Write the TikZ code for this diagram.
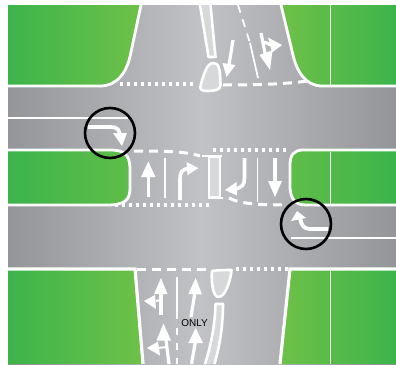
\documentclass[tikz,border=0pt]{standalone}
\usepackage{fontspec}
\setmainfont{Liberation Sans}
\definecolor{deepgreen}{RGB}{60,180,75}
\definecolor{lightgreen}{RGB}{110,193,72}
\definecolor{roaddark}{RGB}{147,149,152}
\definecolor{roadlight}{RGB}{192,194,197}
\definecolor{islandgray}{RGB}{215,216,218}
\usetikzlibrary{calc}

\tikzset{
  curbline/.style={draw=white,line width=2.8pt},
  laneline/.style={draw=white,line width=1.5pt},
  dottedstop/.style={draw=white,line width=3.2pt,dash pattern=on 3.2pt off 3.8pt},
  dashedstop/.style={draw=white,line width=3pt,dash pattern=on 9pt off 6pt},
  shaftline/.style={draw=white,line width=3.2pt},
  islandshape/.style={draw=white,line width=2.6pt,fill=islandgray,line join=round},
  headshape/.style={fill=white},
  callout/.style={draw=black,line width=2.6pt},
}

\begin{document}
\begin{tikzpicture}[x=1pt,y=-1pt]
  \useasboundingbox (0,0) rectangle (396,364);
  \begin{scope}
  \clip (8,5) rectangle (396,364);
  % road surface
  \shade[left color=roaddark,right color=roaddark,middle color=roadlight] (8,5) rectangle (396,364);

  % left corners
  \shade[left color=deepgreen,right color=lightgreen]
    (8,5) -- (141,5) -- (131,52) .. controls (127,74) and (116,85) .. (100,85) -- (8,85) -- cycle;
  \shade[left color=deepgreen,right color=lightgreen!70!deepgreen]
    (8,150) -- (110,150) .. controls (125,150) and (130,155) .. (130,170) -- (130,188)
    .. controls (130,200) and (125,204) .. (107,204) -- (8,204) -- cycle;
  \shade[left color=deepgreen,right color=lightgreen]
    (8,270) -- (134,270) -- (143,364) -- (8,364) -- cycle;
  % right corners
  \shade[left color=lightgreen,right color=deepgreen]
    (281,5) -- (396,5) -- (396,85) -- (322,85) .. controls (306,85) and (297,72) .. (293,55) -- cycle;
  \shade[left color=lightgreen!70!deepgreen,right color=deepgreen]
    (396,150) -- (303,150) .. controls (294,150) and (290,155) .. (290,165) -- (290,188)
    .. controls (291,199) and (295,204) .. (306,204) -- (396,204) -- cycle;
  \shade[left color=lightgreen,right color=deepgreen]
    (290,270) -- (396,270) -- (396,364) -- (280,364) -- cycle;

  % curbs
  \draw[curbline] (141,5) -- (131,52) .. controls (127,74) and (116,86) .. (100,86) -- (8,86);
  \draw[curbline] (8,150) -- (110,150) .. controls (125,150) and (130,155) .. (130,170) -- (130,188)
    .. controls (130,200) and (125,205) .. (107,205) -- (8,205);
  \draw[curbline,line width=3.2pt] (8,269) -- (135,269) -- (143,364);
  \draw[curbline] (281,5) -- (293,55) .. controls (297,72) and (306,86) .. (322,86) -- (396,86);
  \draw[curbline] (396,150) -- (303,150) .. controls (294,150) and (290,155) .. (290,165) -- (290,188)
    .. controls (291,199) and (295,205) .. (306,205) -- (396,205);
  \draw[curbline,line width=3.2pt] (396,269) -- (290,269) -- (280,364);

  % lane edges and thin verge lines
  \draw[laneline] (8,118) -- (128,118);
  \draw[laneline] (291,238) -- (396,238);
  \foreach \ya/\yb in {5/85,152/204,270/364}
    \draw[draw=white,line width=1pt] (330,\ya) -- (330,\yb);

  % stop lines
  \draw[dottedstop] (120,84) -- (195,84);
  \draw[dashedstop] (223,85) .. controls (260,85) and (285,84) .. (308,81);
  \draw[dashedstop] (134,151) .. controls (160,151) and (185,151) .. (200,156);
  \draw[dottedstop] (213,150) -- (287,150);
  \draw[dottedstop] (115,205) -- (212,205);
  \draw[dashedstop] (229,198) .. controls (240,204) and (260,205) .. (286,205);
  \draw[dashedstop] (137,269) -- (208,269);
  \draw[dottedstop] (236,269) -- (288,269);

  % north leg
  \draw[islandshape] (200,5) -- (208.5,57) -- (215.5,57) -- (210.5,5);
  \draw[islandshape] (213,63) .. controls (219,63) and (220,68) .. (220.5,85)
    .. controls (220.5,90) and (215,91) .. (207,91) .. controls (201,91) and (199,89) .. (201,84)
    .. controls (204,74) and (207,63) .. (213,63) -- cycle;
  \draw[laneline,line width=1.7pt,dash pattern=on 8pt off 7pt] (238,5) -- (250,43);
  \draw[laneline,line width=1.7pt] (250,43) -- (258,78);
  \draw[shaftline] (233,40) -- (229,65);
  \fill[headshape] (222.5,63) -- (235.5,65) -- (226.5,77) -- cycle;
  \draw[shaftline] (261,33) -- (266,58);
  \fill[headshape] (259.5,55) -- (272.5,50) -- (270,70) -- cycle;
  \draw[shaftline] (264,42) -- (271,45);
  \fill[headshape] (268,37.5) -- (282,45) -- (272,52.5) -- cycle;

  % median
  \draw[shaftline] (148.3,175) -- (148.3,197);
  \fill[headshape] (141,177) -- (148.3,161.5) -- (155.5,177) -- cycle;
  \draw[laneline,line width=1.7pt] (165,158) -- (165,198);
  \draw[shaftline,line width=3.6pt] (180,200) -- (180,180) .. controls (180,172) and (182,169) .. (189,168.5);
  \fill[headshape] (186.5,162) -- (198.5,168) -- (187.5,175) -- cycle;
  \draw[islandshape] (209,157) rectangle (220,197.5);
  \draw[curbline] (202,156) -- (222,156);
  \draw[curbline] (208,198) -- (223,198);
  \draw[shaftline,line width=3.6pt] (244.5,158) -- (244.5,178) .. controls (244.5,185) and (242,188) .. (234,189);
  \fill[headshape] (236.5,182) -- (225,190) -- (237,195.5) -- cycle;
  \draw[laneline,line width=1.7pt] (257.5,158) -- (257.5,202);
  \draw[shaftline] (275,158) -- (275,183);
  \fill[headshape] (268,181) -- (282,181) -- (275,197) -- cycle;

  % south leg
  \draw[shaftline] (161,292) -- (161,315);
  \fill[headshape] (154,294) -- (161,278) -- (167.5,294) -- cycle;
  \draw[shaftline,line width=2pt] (156,301) -- (161,300);
  \fill[headshape] (155,295) -- (144,301) -- (156,309) -- cycle;
  \draw[shaftline] (166,340) -- (169,364);
  \fill[headshape] (156.5,340.5) -- (163.5,323.5) -- (171,340.5) -- cycle;
  \draw[shaftline,line width=2pt] (158,348) -- (167,347);
  \fill[headshape] (158,341.5) -- (147,348) -- (160,355.5) -- cycle;
  \draw[laneline,line width=1.7pt] (176.7,277) -- (176.7,319);
  \draw[laneline,line width=1.7pt,dash pattern=on 7pt off 8pt] (176.7,328) -- (176.7,364);
  \draw[shaftline] (195,292) -- (191,317);
  \fill[headshape] (188.3,294) -- (195.7,278) -- (202,294.5) -- cycle;
  \draw[shaftline] (195.5,341) -- (191.5,364);
  \fill[headshape] (188.3,343) -- (195.7,328) -- (203,343) -- cycle;
  \draw[islandshape] (212,271) .. controls (218,270) and (226,270) .. (231.5,270)
    .. controls (231,278) and (226,297) .. (218.5,297) .. controls (213,297) and (211,282) .. (212,271) -- cycle;
  \draw[islandshape] (205,364) .. controls (211,345) and (215,325) .. (215.5,304) -- (223,304)
    .. controls (223,325) and (220,345) .. (214.5,364);
  \node[font=\fontsize{10}{10}\selectfont,text=black,inner sep=0pt] (onlylabel) at (194.5,322.7) {ONLY};

  % turning paths in the callouts
  \draw[shaftline,line width=3.8pt] (88,127) -- (111,127) .. controls (117,127) and (120,130) .. (120,136);
  \fill[headshape] (113,133) -- (127,133) -- (122,146) -- cycle;
  \draw[shaftline,line width=3.8pt] (328,229) -- (310,229) .. controls (304,229) and (301,225) .. (300,218);
  \fill[headshape] (291,221) -- (297,211) -- (306,218) -- cycle;
  \draw[callout] (110,133) circle (25);
  \draw[callout] (306,224) circle (25);
  \end{scope}
\end{tikzpicture}
\end{document}
